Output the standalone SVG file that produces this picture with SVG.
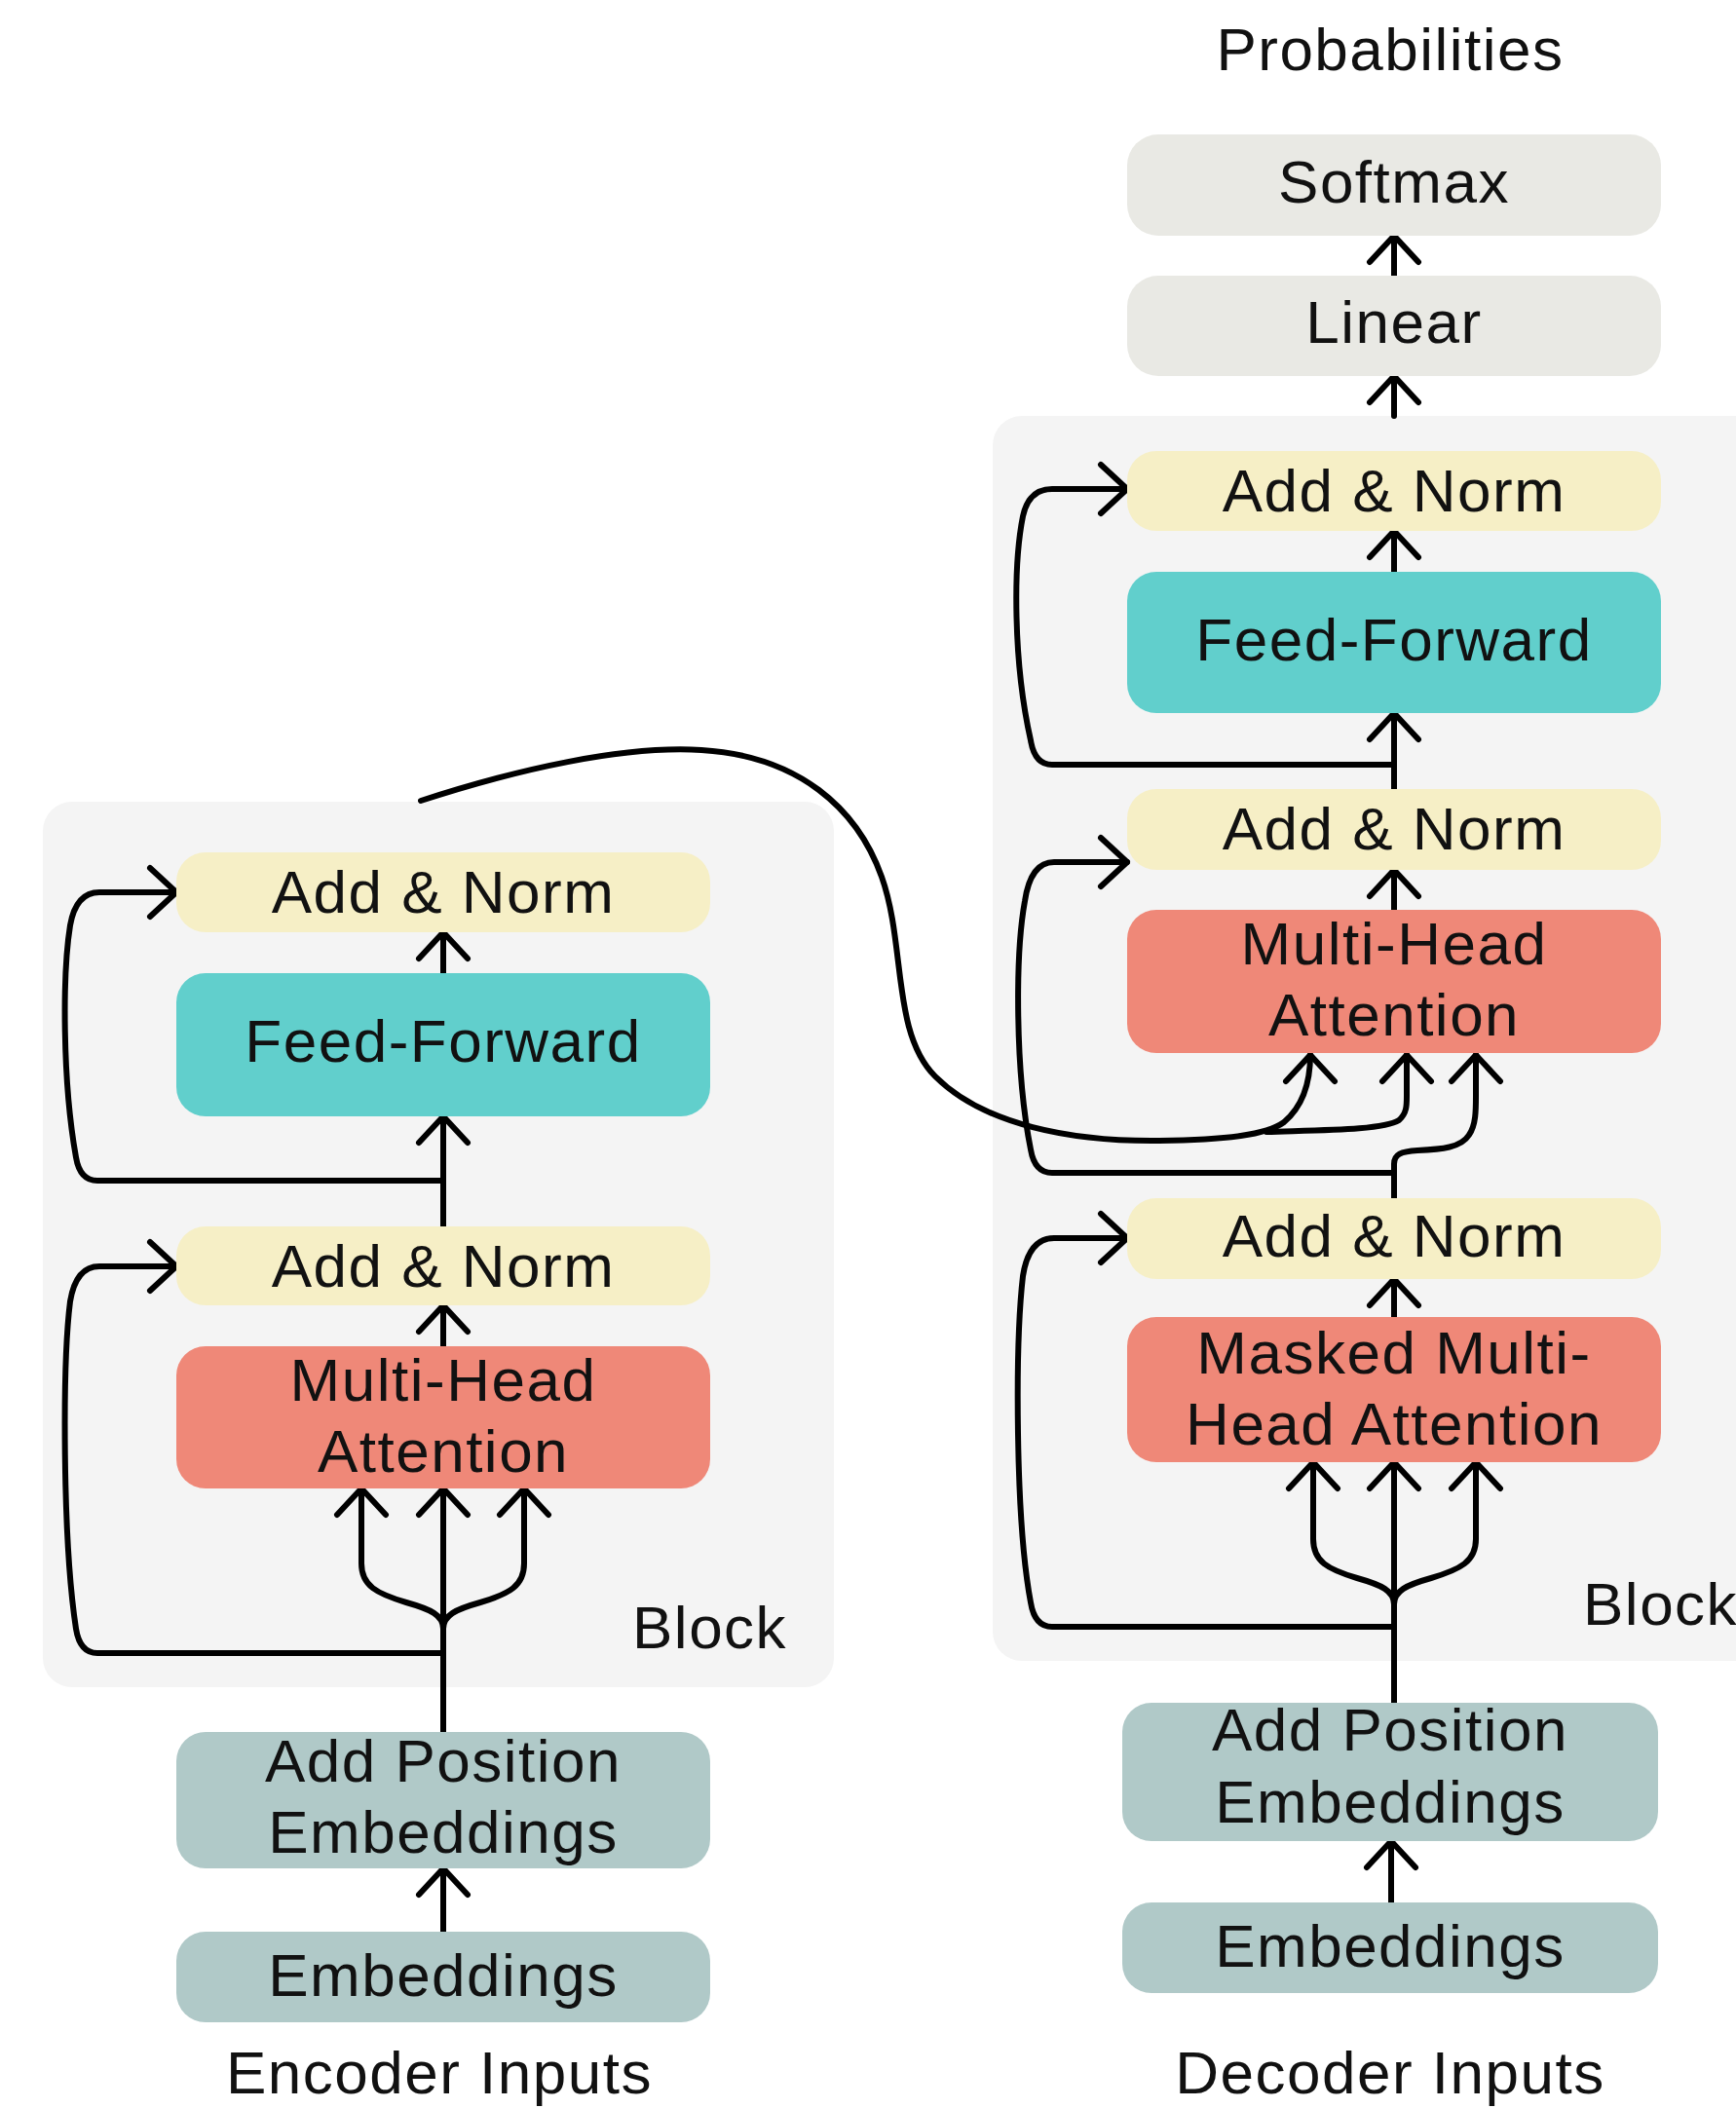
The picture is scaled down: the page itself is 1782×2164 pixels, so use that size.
<svg xmlns="http://www.w3.org/2000/svg" width="1782" height="2164" viewBox="0 0 1782 2164">
  <defs>
    <style>
      .blk { fill: #f4f4f4; }
      .out { fill: #e9e9e4; }
      .norm { fill: #f6efc6; }
      .ff { fill: #61cfcc; }
      .attn { fill: #ef8878; }
      .emb { fill: #b0c9c8; }
      text { font-family: "Liberation Sans", Arial, sans-serif; font-size: 62px; fill: #111; letter-spacing: 1.5px; }
      .c { text-anchor: middle; }
      .edge { fill: none; stroke: #000; stroke-width: 6; stroke-linecap: round; stroke-linejoin: round; }
      .arr { marker-end: url(#ah); }
    </style>
    <marker id="ah" viewBox="-30 -30 40 60" markerWidth="40" markerHeight="60" refX="0" refY="0" orient="auto" markerUnits="userSpaceOnUse" overflow="visible">
      <path d="M -27,-25 L 0,0 L -27,25" fill="none" stroke="#000" stroke-width="6" stroke-linecap="round" stroke-linejoin="round"/>
    </marker>
  </defs>

  <rect width="1782" height="2164" fill="#fff"/>

  <!-- block backgrounds -->
  <g id="encoder-block">
    <rect class="blk" x="44" y="823" width="812" height="909" rx="30"/>
    <text x="649" y="1692">Block</text>
  </g>
  <g id="decoder-block">
    <rect class="blk" x="1019" y="427" width="820" height="1278" rx="30"/>
    <text x="1625" y="1668">Block</text>
  </g>

  <!-- free labels -->
  <g id="labels">
    <text class="c" x="1427" y="72">Probabilities</text>
    <text class="c" x="451" y="2149">Encoder Inputs</text>
    <text class="c" x="1427" y="2149">Decoder Inputs</text>
  </g>

  <!-- connectors -->
  <g id="connectors">
    <!-- decoder main stem -->
    <path class="edge arr" d="M 1431,283 V 242"/>
    <path class="edge arr" d="M 1431,427 V 386"/>
    <path class="edge arr" d="M 1431,587 V 545"/>
    <path class="edge arr" d="M 1431,810 V 732"/>
    <path class="edge arr" d="M 1431,934 V 893"/>
    <path class="edge arr" d="M 1431,1352 V 1313"/>
    <path class="edge arr" d="M 1428,1953 V 1890"/>
    <!-- decoder residuals -->
    <path class="edge arr" d="M 1431,785 H 1080 Q 1062,785 1058,760 C 1040,680 1040,580 1050,530 Q 1056,502 1080,502 H 1157"/>
    <path class="edge arr" d="M 1431,1204 H 1080 Q 1062,1204 1058,1180 C 1042,1100 1042,980 1052,925 Q 1058,885 1082,885 H 1157"/>
    <path class="edge arr" d="M 1431,1670 H 1080 Q 1062,1670 1058,1645 C 1042,1560 1042,1380 1050,1310 Q 1056,1271 1082,1271 H 1157"/>
    <!-- masked attention inputs -->
    <path class="edge arr" d="M 1431,1748 V 1501"/>
    <path class="edge arr" d="M 1431,1647 C 1431,1633 1418,1627 1393,1620 C 1363,1611 1348,1603 1348,1580 V 1501"/>
    <path class="edge arr" d="M 1431,1647 C 1431,1633 1444,1627 1469,1620 C 1499,1611 1515,1603 1515,1580 V 1501"/>
    <!-- cross attention inputs -->
    <path class="edge arr" d="M 432,822 C 530,790 640,765 720,770 C 820,776 880,830 905,900 C 930,970 915,1060 960,1105 C 1010,1155 1100,1172 1190,1171 C 1260,1170 1300,1165 1318,1152 C 1338,1135 1345,1110 1345,1083"/>
    <path class="edge arr" d="M 1300,1162 C 1360,1160 1420,1160 1436,1150 C 1444,1143 1444,1135 1444,1125 V 1083"/>
    <path class="edge arr" d="M 1431,1230 V 1195 C 1431,1185 1438,1182 1455,1181 C 1480,1180 1500,1178 1508,1165 C 1515,1155 1515,1140 1515,1125 V 1083"/>

    <!-- encoder main stem -->
    <path class="edge arr" d="M 455,999 V 957"/>
    <path class="edge arr" d="M 455,1259 V 1146"/>
    <path class="edge arr" d="M 455,1382 V 1340"/>
    <path class="edge arr" d="M 455,1983 V 1918"/>
    <!-- encoder residuals -->
    <path class="edge arr" d="M 455,1212 H 100 Q 82,1212 78,1188 C 64,1110 64,1000 72,950 Q 78,916 102,916 H 181"/>
    <path class="edge arr" d="M 455,1697 H 100 Q 82,1697 78,1672 C 64,1580 64,1400 72,1336 Q 78,1300 102,1300 H 181"/>
    <!-- encoder attention inputs -->
    <path class="edge arr" d="M 455,1778 V 1528"/>
    <path class="edge arr" d="M 455,1672 C 455,1658 442,1652 417,1645 C 387,1636 371,1628 371,1605 V 1528"/>
    <path class="edge arr" d="M 455,1672 C 455,1658 468,1652 493,1645 C 523,1636 538,1628 538,1605 V 1528"/>
  </g>

  <!-- decoder nodes -->
  <g id="dec-softmax">
    <rect class="out" x="1157" y="138" width="548" height="104" rx="32"/>
    <text class="c" x="1431" y="208">Softmax</text>
  </g>
  <g id="dec-linear">
    <rect class="out" x="1157" y="283" width="548" height="103" rx="32"/>
    <text class="c" x="1431" y="352">Linear</text>
  </g>
  <g id="dec-addnorm-3">
    <rect class="norm" x="1157" y="463" width="548" height="82" rx="30"/>
    <text class="c" x="1431" y="525">Add &amp; Norm</text>
  </g>
  <g id="dec-feedforward">
    <rect class="ff" x="1157" y="587" width="548" height="145" rx="30"/>
    <text class="c" x="1431" y="678">Feed-Forward</text>
  </g>
  <g id="dec-addnorm-2">
    <rect class="norm" x="1157" y="810" width="548" height="83" rx="30"/>
    <text class="c" x="1431" y="872">Add &amp; Norm</text>
  </g>
  <g id="dec-cross-attention">
    <rect class="attn" x="1157" y="934" width="548" height="147" rx="30"/>
    <text class="c" x="1431" y="990">Multi-Head</text>
    <text class="c" x="1431" y="1063">Attention</text>
  </g>
  <g id="dec-addnorm-1">
    <rect class="norm" x="1157" y="1230" width="548" height="83" rx="30"/>
    <text class="c" x="1431" y="1290">Add &amp; Norm</text>
  </g>
  <g id="dec-masked-attention">
    <rect class="attn" x="1157" y="1352" width="548" height="149" rx="30"/>
    <text class="c" x="1431" y="1410">Masked Multi-</text>
    <text class="c" x="1431" y="1483">Head Attention</text>
  </g>
  <g id="dec-position">
    <rect class="emb" x="1152" y="1748" width="550" height="142" rx="30"/>
    <text class="c" x="1427" y="1797">Add Position</text>
    <text class="c" x="1427" y="1871">Embeddings</text>
  </g>
  <g id="dec-embeddings">
    <rect class="emb" x="1152" y="1953" width="550" height="93" rx="30"/>
    <text class="c" x="1427" y="2019">Embeddings</text>
  </g>

  <!-- encoder nodes -->
  <g id="enc-addnorm-2">
    <rect class="norm" x="181" y="875" width="548" height="82" rx="30"/>
    <text class="c" x="455" y="937">Add &amp; Norm</text>
  </g>
  <g id="enc-feedforward">
    <rect class="ff" x="181" y="999" width="548" height="147" rx="30"/>
    <text class="c" x="455" y="1090">Feed-Forward</text>
  </g>
  <g id="enc-addnorm-1">
    <rect class="norm" x="181" y="1259" width="548" height="81" rx="30"/>
    <text class="c" x="455" y="1321">Add &amp; Norm</text>
  </g>
  <g id="enc-attention">
    <rect class="attn" x="181" y="1382" width="548" height="146" rx="30"/>
    <text class="c" x="455" y="1438">Multi-Head</text>
    <text class="c" x="455" y="1511">Attention</text>
  </g>
  <g id="enc-position">
    <rect class="emb" x="181" y="1778" width="548" height="140" rx="30"/>
    <text class="c" x="455" y="1829">Add Position</text>
    <text class="c" x="455" y="1902">Embeddings</text>
  </g>
  <g id="enc-embeddings">
    <rect class="emb" x="181" y="1983" width="548" height="93" rx="30"/>
    <text class="c" x="455" y="2049">Embeddings</text>
  </g>
</svg>
